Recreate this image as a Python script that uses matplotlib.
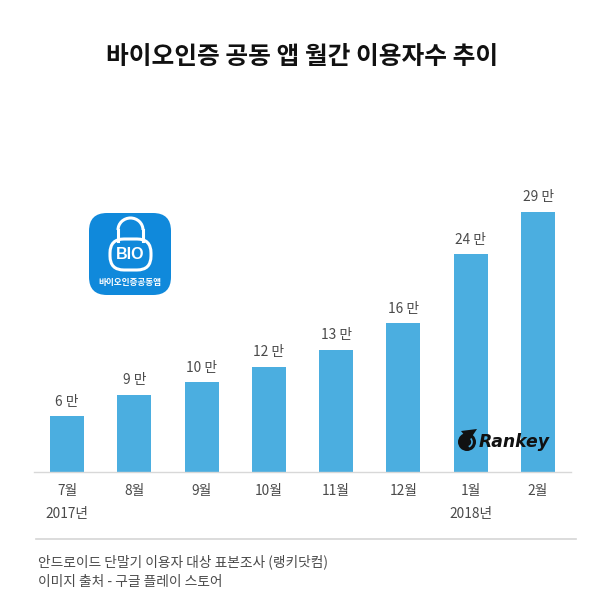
#!/usr/bin/env python
# Monthly users of the biometric auth app, bars plus logo overlays
import matplotlib
matplotlib.use('Agg')
import matplotlib.pyplot as plt
from matplotlib.patches import FancyBboxPatch, Circle, Arc, Polygon

plt.rcParams['font.family'] = ['Noto Sans CJK KR', 'DejaVu Sans']

title = '바이오인증 공동 앱 월간 이용자수 추이'
months = ['7월', '8월', '9월', '10월', '11월', '12월', '1월', '2월']
years = ['2017년', '', '', '', '', '', '2018년', '']
users = [6.2, 8.6, 10.0, 11.7, 13.6, 16.6, 24.3, 29.0]
labels = ['6 만', '9 만', '10 만', '12 만', '13 만', '16 만', '24 만', '29 만']
notes = ['안드로이드 단말기 이용자 대상 표본조사 (랭키닷컴)', '이미지 출처 - 구글 플레이 스토어']

BAR = '#4BAEE0'
TEXT = '#4a4a4a'
S = 604.0

fig = plt.figure(figsize=(6.04, 6.04), dpi=100, facecolor='white')

# bar axes, position in figure pixels
ax = fig.add_axes([34 / S, (S - 472) / S, (571 - 34) / S, 372 / S])
x = list(range(len(users)))
ax.bar(x, users, width=0.506, color=BAR, zorder=2)
ax.set_xlim(-0.491, 7.49)
ax.set_ylim(0, 41.5)
for s in ['top', 'left', 'right']:
    ax.spines[s].set_visible(False)
ax.spines['bottom'].set_color('#d8d8d8')
ax.spines['bottom'].set_linewidth(1.0)
ax.set_yticks([])
ax.set_xticks(x)
ax.set_xticklabels([m + '\n' + y if y else m for m, y in zip(months, years)],
                   fontsize=9.9, color=TEXT, linespacing=1.75, va='top')
ax.tick_params(axis='x', length=0, pad=9)
for i, v in enumerate(users):
    ax.annotate(labels[i], (i, v), xytext=(0, 5.5), textcoords='offset points',
                ha='center', va='bottom', fontsize=9.9, color=TEXT)

# overlay in pixel coordinates for title, footer and logos
ov = fig.add_axes([0, 0, 1, 1], zorder=5)
ov.set_xlim(0, S)
ov.set_ylim(S, 0)
ov.axis('off')
ov.patch.set_alpha(0)

ov.text(302, 57, title, ha='center', va='center', fontsize=17.8, fontweight='bold', color='#111111')
ov.plot([36, 576], [538.5, 538.5], color='#d5d5d5', lw=1.2)
ov.text(38, 562, notes[0], ha='left', va='center', fontsize=9.9, color=TEXT)
ov.text(38, 582, notes[1], ha='left', va='center', fontsize=9.9, color=TEXT)

# app icon
ov.add_patch(FancyBboxPatch((105, 229), 50, 50, boxstyle='round,pad=16,rounding_size=18',
                            fc='#1089DB', ec='none'))
ov.add_patch(Arc((130.5, 230), 25, 24, theta1=180, theta2=360, ec='white', lw=2.2))
ov.plot([118, 118], [230, 241], color='white', lw=2.2)
ov.plot([143, 143], [230, 241], color='white', lw=2.2)
ov.add_patch(FancyBboxPatch((110, 239), 41, 31, boxstyle='round,pad=0,rounding_size=14',
                            fc='#1089DB', ec='white', lw=2.2))
ov.text(130.5, 254.5, 'BIO', ha='center', va='center', fontsize=11.5, fontweight='bold',
        family='Liberation Sans', color='white')
ov.text(130, 282, '바이오인증공동앱', ha='center', va='center', fontsize=6.2, fontweight='bold', color='white')

# Rankey mark
ov.add_patch(Circle((467, 442), 9, fc='#111111', ec='none'))
ov.add_patch(Arc((467, 442), 10, 10, theta1=310, theta2=70, ec=BAR, lw=1.2))
ov.add_patch(Polygon([[461, 431], [477, 429], [469, 441]], fc='#111111', ec='none'))
ov.text(479, 442, 'Rankey', ha='left', va='center', fontsize=12.4, fontweight='bold',
        style='italic', family='DejaVu Sans', color='#111111')

fig.savefig('out.png', dpi=100, facecolor='white')
